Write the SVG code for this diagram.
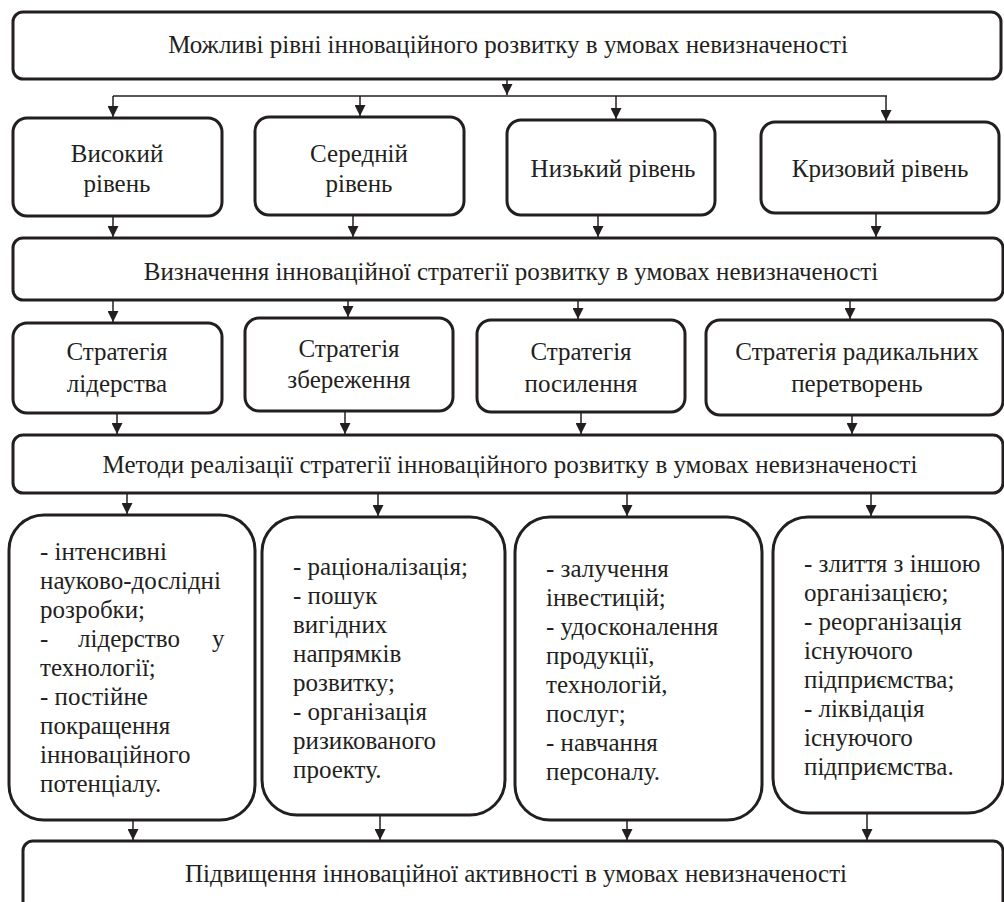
<svg xmlns="http://www.w3.org/2000/svg" width="1004" height="902" viewBox="0 0 1004 902">
<style>
.b{fill:#fff;stroke:#231f20;stroke-width:3}
.t{font-family:"Liberation Serif","Times New Roman",serif;font-size:25px;fill:#231f20}
.c{text-anchor:middle}
.ln{stroke:#231f20;stroke-width:1.5;fill:none}
</style>
<defs>
<marker id="ah" markerUnits="userSpaceOnUse" markerWidth="12" markerHeight="11" refX="11" refY="5.5" orient="auto">
<path d="M0,0 L11,5.5 L0,11 Z" fill="#231f20"/>
</marker>
</defs>
<rect x="0" y="0" width="1004" height="902" fill="#fff"/>
<g id="connectors">
<line class="ln" x1="507" y1="79" x2="507" y2="95" marker-end="url(#ah)"/>
<line class="ln" x1="113" y1="96" x2="887" y2="96"/>
<line class="ln" x1="113" y1="96" x2="113" y2="117" marker-end="url(#ah)"/>
<line class="ln" x1="360" y1="96" x2="360" y2="116" marker-end="url(#ah)"/>
<line class="ln" x1="616" y1="96" x2="616" y2="119" marker-end="url(#ah)"/>
<line class="ln" x1="886" y1="96" x2="886" y2="121" marker-end="url(#ah)"/>
<line class="ln" x1="113" y1="216" x2="113" y2="237" marker-end="url(#ah)"/>
<line class="ln" x1="353" y1="215" x2="353" y2="237" marker-end="url(#ah)"/>
<line class="ln" x1="598" y1="215" x2="598" y2="237" marker-end="url(#ah)"/>
<line class="ln" x1="876" y1="213" x2="876" y2="237" marker-end="url(#ah)"/>
<line class="ln" x1="113" y1="300" x2="113" y2="322" marker-end="url(#ah)"/>
<line class="ln" x1="348" y1="300" x2="348" y2="317" marker-end="url(#ah)"/>
<line class="ln" x1="578" y1="300" x2="578" y2="319" marker-end="url(#ah)"/>
<line class="ln" x1="850" y1="300" x2="850" y2="319" marker-end="url(#ah)"/>
<line class="ln" x1="117" y1="413" x2="117" y2="434" marker-end="url(#ah)"/>
<line class="ln" x1="345" y1="411" x2="345" y2="434" marker-end="url(#ah)"/>
<line class="ln" x1="581" y1="412" x2="581" y2="434" marker-end="url(#ah)"/>
<line class="ln" x1="852" y1="415" x2="852" y2="434" marker-end="url(#ah)"/>
<line class="ln" x1="127" y1="493" x2="127" y2="514" marker-end="url(#ah)"/>
<line class="ln" x1="378" y1="493" x2="378" y2="516" marker-end="url(#ah)"/>
<line class="ln" x1="627" y1="493" x2="627" y2="516" marker-end="url(#ah)"/>
<line class="ln" x1="871" y1="493" x2="871" y2="516" marker-end="url(#ah)"/>
<line class="ln" x1="133" y1="820" x2="133" y2="840" marker-end="url(#ah)"/>
<line class="ln" x1="380" y1="815" x2="380" y2="840" marker-end="url(#ah)"/>
<line class="ln" x1="627" y1="820" x2="627" y2="840" marker-end="url(#ah)"/>
<line class="ln" x1="867" y1="813" x2="867" y2="840" marker-end="url(#ah)"/>
</g>
<g id="top"><rect class="b" x="13" y="12" width="988" height="67" rx="10"/><text class="t c" x="508" y="53">Можливі рівні інноваційного розвитку в умовах невизначеності</text></g>
<g id="level1"><rect class="b" x="13" y="118" width="209" height="98" rx="14"/><text class="t c" x="117" y="162">Високий</text><text class="t c" x="117" y="192">рівень</text></g>
<g id="level2"><rect class="b" x="255" y="117" width="209" height="98" rx="14"/><text class="t c" x="359" y="162">Середній</text><text class="t c" x="359" y="192">рівень</text></g>
<g id="level3"><rect class="b" x="507" y="120" width="208" height="95" rx="14"/><text class="t c" x="613" y="177">Низький рівень</text></g>
<g id="level4"><rect class="b" x="761" y="122" width="238" height="91" rx="14"/><text class="t c" x="880" y="177">Кризовий рівень</text></g>
<g id="strategy"><rect class="b" x="13" y="238" width="990" height="62" rx="10"/><text class="t c" x="511" y="280">Визначення інноваційної стратегії розвитку в умовах невизначеності</text></g>
<g id="s1"><rect class="b" x="13" y="323" width="209" height="90" rx="14"/><text class="t c" x="117" y="360">Стратегія</text><text class="t c" x="117" y="392">лідерства</text></g>
<g id="s2"><rect class="b" x="245" y="318" width="208" height="93" rx="14"/><text class="t c" x="349" y="357">Стратегія</text><text class="t c" x="349" y="388">збереження</text></g>
<g id="s3"><rect class="b" x="477" y="320" width="208" height="92" rx="14"/><text class="t c" x="581" y="360">Стратегія</text><text class="t c" x="581" y="392">посилення</text></g>
<g id="s4"><rect class="b" x="706" y="320" width="297" height="95" rx="14"/><text class="t c" x="857" y="360">Стратегія радикальних</text><text class="t c" x="857" y="392">перетворень</text></g>
<g id="methods"><rect class="b" x="13" y="435" width="990" height="58" rx="10"/><text class="t c" x="510" y="473">Методи реалізації стратегії інноваційного розвитку в умовах невизначеності</text></g>
<g id="m1"><rect class="b" x="9" y="515" width="246" height="305" rx="35"/>
<text class="t"><tspan x="40" y="560">- інтенсивні</tspan><tspan x="40" y="589">науково-дослідні</tspan><tspan x="40" y="618">розробки;</tspan><tspan x="40" y="647">-</tspan><tspan x="78" y="647">лідерство</tspan><tspan x="212" y="647">у</tspan><tspan x="40" y="676">технології;</tspan><tspan x="40" y="705">- постійне</tspan><tspan x="40" y="734">покращення</tspan><tspan x="40" y="763">інноваційного</tspan><tspan x="40" y="792">потенціалу.</tspan></text></g>
<g id="m2"><rect class="b" x="262" y="517" width="243" height="298" rx="35"/>
<text class="t"><tspan x="293" y="575">- раціоналізація;</tspan><tspan x="293" y="604">- пошук</tspan><tspan x="293" y="633">вигідних</tspan><tspan x="293" y="662">напрямків</tspan><tspan x="293" y="691">розвитку;</tspan><tspan x="293" y="720">- організація</tspan><tspan x="293" y="749">ризикованого</tspan><tspan x="293" y="778">проекту.</tspan></text></g>
<g id="m3"><rect class="b" x="515" y="517" width="247" height="303" rx="35"/>
<text class="t"><tspan x="546" y="577">- залучення</tspan><tspan x="546" y="606">інвестицій;</tspan><tspan x="546" y="635">- удосконалення</tspan><tspan x="546" y="664">продукції,</tspan><tspan x="546" y="693">технологій,</tspan><tspan x="546" y="722">послуг;</tspan><tspan x="546" y="751">- навчання</tspan><tspan x="546" y="780">персоналу.</tspan></text></g>
<g id="m4"><rect class="b" x="773" y="517" width="230" height="296" rx="35"/>
<text class="t"><tspan x="804" y="572">- злиття з іншою</tspan><tspan x="804" y="601">організацією;</tspan><tspan x="804" y="630">- реорганізація</tspan><tspan x="804" y="659">існуючого</tspan><tspan x="804" y="688">підприємства;</tspan><tspan x="804" y="717">- ліквідація</tspan><tspan x="804" y="746">існуючого</tspan><tspan x="804" y="775">підприємства.</tspan></text></g>
<g id="final"><rect class="b" x="23" y="841" width="980" height="72" rx="10"/><text class="t c" x="516" y="882">Підвищення інноваційної активності в умовах невизначеності</text></g>
</svg>
